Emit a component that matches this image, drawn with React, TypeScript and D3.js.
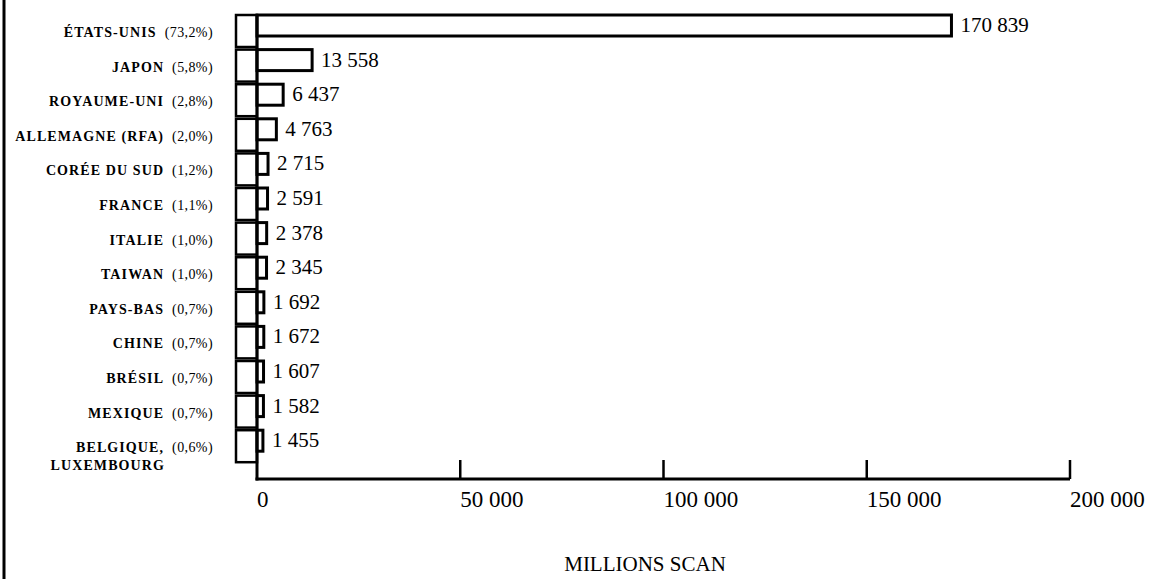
import React from "react";
import * as d3 from "d3";

const categories = [
  "ÉTATS-UNIS",
  "JAPON",
  "ROYAUME-UNI",
  "ALLEMAGNE (RFA)",
  "CORÉE DU SUD",
  "FRANCE",
  "ITALIE",
  "TAIWAN",
  "PAYS-BAS",
  "CHINE",
  "BRÉSIL",
  "MEXIQUE",
  "BELGIQUE,",
];
const secondLines = ["", "", "", "", "", "", "", "", "", "", "", "", "LUXEMBOURG"];
const shares = [
  "(73,2%)",
  "(5,8%)",
  "(2,8%)",
  "(2,0%)",
  "(1,2%)",
  "(1,1%)",
  "(1,0%)",
  "(1,0%)",
  "(0,7%)",
  "(0,7%)",
  "(0,7%)",
  "(0,7%)",
  "(0,6%)",
];
const values = [170839, 13558, 6437, 4763, 2715, 2591, 2378, 2345, 1692, 1672, 1607, 1582, 1455];
const tickValues = [0, 50000, 100000, 150000, 200000];
const axisTitle = "MILLIONS SCAN";

const W = 1153;
const H = 579;
const FONT = "'Liberation Serif', 'Times New Roman', serif";

export default function App() {
  const locale = d3.formatLocale({ decimal: ",", thousands: " ", grouping: [3], currency: ["", ""] });
  const fmt = locale.format(",d");

  const x = d3.scaleLinear().domain([0, 200000]).range([257, 1070]);
  const y = d3
    .scaleBand<number>()
    .domain(d3.range(categories.length))
    .range([15, 15 + categories.length * 34.6])
    .padding(0);
  const barH = 21;
  const boxH = 32;
  const boxLeft = 236;
  const baseY = 479;
  const labelRight = 213;

  return (
    <svg
      width={W}
      height={H}
      style={{ position: "absolute", left: 0, top: 0, background: "#fff" }}
      fontFamily={FONT}
    >
      <rect x={0} y={0} width={W} height={H} fill="#fff" />
      {/* left border line */}
      <line x1={4} x2={4} y1={0} y2={H} stroke="#000" strokeWidth={3} />

      {/* left boxes */}
      {categories.map((c, i) => (
        <rect
          key={"box" + i}
          x={boxLeft}
          y={y(i)!}
          width={x(0) - boxLeft}
          height={boxH}
          fill="#fff"
          stroke="#000"
          strokeWidth={2.5}
        />
      ))}

      {/* bars */}
      {values.map((v, i) => (
        <rect
          key={"bar" + i}
          x={x(0)}
          y={y(i)!}
          width={x(v) - x(0)}
          height={barH}
          fill="#fff"
          stroke="#000"
          strokeWidth={3}
        />
      ))}

      {/* axis lines */}
      <line x1={x(0)} x2={x(0)} y1={y(0)! - 1} y2={baseY + 1.5} stroke="#000" strokeWidth={3} />
      <line x1={x(0) - 1.5} x2={x(200000)} y1={baseY} y2={baseY} stroke="#000" strokeWidth={3} />
      {tickValues.slice(1).map((t) => (
        <line key={"t" + t} x1={x(t)} x2={x(t)} y1={baseY - 19} y2={baseY} stroke="#000" strokeWidth={2.5} />
      ))}
      {tickValues.map((t) => (
        <text key={"tl" + t} x={x(t)} y={507} fontSize={23} textAnchor="start" fill="#000">
          {fmt(t)}
        </text>
      ))}

      {/* value labels */}
      {values.map((v, i) => (
        <text key={"vl" + i} x={x(v) + 9} y={y(i)! + 17} fontSize={21} fill="#000">
          {fmt(v)}
        </text>
      ))}

      {/* category labels */}
      {categories.map((c, i) => (
        <text key={"cl" + i} x={labelRight} y={y(i)! + 22} textAnchor="end" fill="#000">
          <tspan fontSize={14} fontWeight="bold" letterSpacing={1.1}>
            {c}
          </tspan>
          <tspan dx={8} fontSize={14} letterSpacing={0.4}>
            {shares[i]}
          </tspan>
        </text>
      ))}
      {secondLines.map((s, i) =>
        s ? (
          <text
            key={"sl" + i}
            x={labelRight - 48}
            y={y(i)! + 40}
            textAnchor="end"
            fontSize={14}
            fontWeight="bold"
            letterSpacing={1.1}
            fill="#000"
          >
            {s}
          </text>
        ) : null
      )}

      {/* axis title */}
      <text x={645} y={571} textAnchor="middle" fontSize={21} fill="#000">
        {axisTitle}
      </text>
    </svg>
  );
}
